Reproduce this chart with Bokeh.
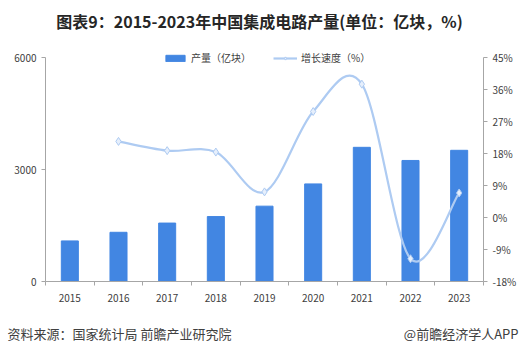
from bokeh.plotting import figure
from bokeh.layouts import column
from bokeh.models import (Range1d, LinearAxis, FixedTicker, Label, Legend, LegendItem,
                          CustomJSTickFormatter)
from bokeh.embed import file_html
from bokeh.resources import INLINE

years = ["2015", "2016", "2017", "2018", "2019", "2020", "2021", "2022", "2023"]
output = [1087, 1318, 1565, 1739, 2018, 2614, 3594, 3242, 3514]
growth_years = ["2016", "2017", "2018", "2019", "2020", "2021", "2022", "2023"]
growth = [21.4, 18.8, 18.4, 7.2, 29.8, 37.5, -11.6, 6.9]
left_ticks = [0, 3000, 6000]
right_ticks = [-18, -9, 0, 9, 18, 27, 36, 45]

FONT = "Noto Sans CJK SC"
BAR = "#4286E2"
LINE = "#AECBF2"

xpos = {y: i + 0.5 for i, y in enumerate(years)}
bx = [xpos[y] for y in years]
gx = [xpos[y] for y in growth_years]

# frame spans from canvas top (0) to y=281; axis bounds keep axes to the data area (57..281)
FRAME_H = 281.0
DATA_H = 224.0
ext = FRAME_H / DATA_H
p = figure(width=519, height=310, output_backend="svg", toolbar_location=None,
           x_range=Range1d(0, 9), y_range=Range1d(0, 6000 * ext),
           min_border_left=45, min_border_right=36, min_border_top=0, min_border_bottom=29)
p.extra_y_ranges = {"g": Range1d(-18, -18 + 63 * ext)}
p.outline_line_color = None
p.grid.grid_line_color = None
p.background_fill_color = "white"
p.border_fill_color = "white"

bars = p.vbar(x=bx, top=output, width=0.35, color=BAR)

# smooth (Catmull-Rom -> Bezier) rendering of the growth series
n = len(gx)
x0 = []; y0 = []; x1 = []; y1 = []; cx0 = []; cy0 = []; cx1 = []; cy1 = []
for i in range(n - 1):
    pm = (gx[max(i - 1, 0)], growth[max(i - 1, 0)])
    pa = (gx[i], growth[i])
    pb = (gx[i + 1], growth[i + 1])
    pn = (gx[min(i + 2, n - 1)], growth[min(i + 2, n - 1)])
    x0.append(pa[0]); y0.append(pa[1]); x1.append(pb[0]); y1.append(pb[1])
    cx0.append(pa[0] + (pb[0] - pm[0]) / 6); cy0.append(pa[1] + (pb[1] - pm[1]) / 6)
    cx1.append(pb[0] - (pn[0] - pa[0]) / 6); cy1.append(pb[1] - (pn[1] - pa[1]) / 6)
p.bezier(x0=x0, y0=y0, x1=x1, y1=y1, cx0=cx0, cy0=cy0, cx1=cx1, cy1=cy1,
         line_color=LINE, line_width=2.2, y_range_name="g")
line_leg = p.line(x=gx, y=growth, line_color=LINE, line_width=2.2, y_range_name="g", visible=False)
pts = p.scatter(x=gx, y=growth, marker="diamond", size=8, fill_color="#E6EFFC",
                line_color=LINE, line_width=1, y_range_name="g")

# axes
ax = p.xaxis[0]
ax.ticker = FixedTicker(ticks=bx, minor_ticks=list(range(10)))
ax.major_label_overrides = {xpos[y]: y for y in years}
ax.major_tick_line_color = None
ax.minor_tick_line_color = "#A6A6A6"
ax.minor_tick_out = 4
ax.minor_tick_in = 0
ax.axis_line_color = "#A6A6A6"
ax.major_label_text_font = FONT
ax.major_label_text_font_size = "10px"
ax.major_label_text_color = "#404040"
ax.major_label_standoff = 6

ly = p.yaxis[0]
ly.ticker = FixedTicker(ticks=left_ticks)
ly.bounds = (0, 6000)
ly.axis_line_color = "#A6A6A6"
ly.major_tick_line_color = "#A6A6A6"
ly.major_tick_out = 4
ly.major_tick_in = 0
ly.minor_tick_line_color = None
ly.major_label_text_font = FONT
ly.major_label_text_font_size = "10px"
ly.major_label_text_color = "#404040"

ry = LinearAxis(y_range_name="g", ticker=FixedTicker(ticks=right_ticks), bounds=(-18, 45),
                formatter=CustomJSTickFormatter(code="return tick + '%';"))
ry.axis_line_color = "#A6A6A6"
ry.major_tick_line_color = "#A6A6A6"
ry.major_tick_out = 4
ry.major_tick_in = 0
ry.minor_tick_line_color = None
ry.major_label_text_font = FONT
ry.major_label_text_font_size = "10px"
ry.major_label_text_color = "#404040"
p.add_layout(ry, "right")

legend = Legend(items=[LegendItem(label="产量（亿块）", renderers=[bars]),
                       LegendItem(label="增长速度（%）", renderers=[line_leg, pts])],
                orientation="horizontal", location=(118, 216),
                background_fill_alpha=0, border_line_color=None,
                label_text_font=FONT, label_text_font_size="10px", label_text_color="#404040",
                glyph_width=24, glyph_height=8, spacing=22, padding=0, margin=0,
                label_standoff=4)
p.add_layout(legend, "center")

# positions relative to the plot frame (left 45 px, bottom at canvas y=281)
title = Label(x=214, y=261, x_units="screen", y_units="screen",
              text="图表9：2015-2023年中国集成电路产量(单位：亿块，%)",
              text_font=FONT, text_font_style="bold", text_font_size="16px",
              text_color="#262626", text_align="center", text_baseline="middle")
p.add_layout(title)

# footer strip
foot = figure(width=519, height=45, output_backend="svg", toolbar_location=None,
              x_range=Range1d(0, 519), y_range=Range1d(0, 45), min_border=0)
if "frame_align" in foot.properties():
    foot.frame_align = False
foot.axis.visible = False
foot.grid.grid_line_color = None
foot.outline_line_color = None
foot.border_fill_color = "white"
src1 = Label(x=7, y=22, text="资料来源：国家统计局 前瞻产业研究院",
             text_font=FONT, text_font_size="13px", text_color="#404040", text_baseline="middle")
src2 = Label(x=518, y=22, text="@前瞻经济学人APP",
             text_font=FONT, text_font_size="13px", text_color="#404040", text_baseline="middle",
             text_align="right")
foot.add_layout(src1)
foot.add_layout(src2)

layout = column(p, foot, spacing=0)
open("out.html", "w").write(file_html(layout, INLINE))
